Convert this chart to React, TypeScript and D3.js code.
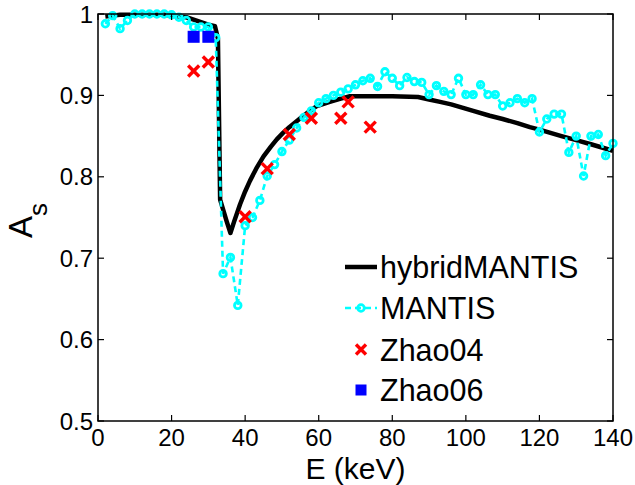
import React from "react";
import * as d3 from "d3";

const W = 635;
const H = 485;
const M = { left: 98, right: 613, top: 14, bottom: 421 };

const xTicks = [0, 20, 40, 60, 80, 100, 120, 140];
const yTicks = [0.5, 0.6, 0.7, 0.8, 0.9, 1];
const yTickLabels = ["0.5", "0.6", "0.7", "0.8", "0.9", "1"];

const hybridE = [2, 4, 6, 8, 10, 12, 14, 16, 18, 20, 22, 24, 26, 28, 30, 31.8, 32.6, 33.2, 34, 35, 36, 37, 38.6, 40, 41.3, 43, 45, 47, 48.6, 50.3, 52, 55, 57, 59.5, 63, 66, 68.5, 74, 80, 87, 90, 93, 96, 99, 102, 106.5, 110, 114, 117.4, 120, 123, 126, 130, 134, 137, 140];
const hybridA = [0.997, 0.998, 0.999, 0.999, 0.999, 0.999, 0.999, 0.999, 0.999, 0.998, 0.997, 0.996, 0.993, 0.99, 0.987, 0.985, 0.97, 0.772, 0.76, 0.745, 0.731, 0.745, 0.766, 0.782, 0.795, 0.81, 0.825, 0.837, 0.846, 0.854, 0.861, 0.872, 0.879, 0.887, 0.892, 0.896, 0.899, 0.899, 0.899, 0.898, 0.895, 0.892, 0.889, 0.885, 0.881, 0.875, 0.871, 0.866, 0.861, 0.858, 0.854, 0.85, 0.845, 0.84, 0.836, 0.832];

const mantisE = [2, 4, 6, 8, 10, 12, 14, 16, 18, 20, 22, 24, 26, 28, 30, 32, 34, 36, 38, 40, 42, 44, 46, 48, 50, 52, 54, 56, 58, 60, 62, 64, 66, 68, 70, 72, 74, 76, 78, 80, 82, 84, 86, 88, 90, 92, 94, 96, 98, 100, 102, 104, 106, 108, 110, 112, 114, 116, 118, 120, 122, 124, 126, 128, 130, 132, 134, 136, 138, 140];
const mantisA = [0.988, 0.998, 0.982, 0.992, 1.0, 1.0, 1.0, 1.0, 1.0, 0.999, 0.996, 0.992, 0.984, 0.984, 0.984, 0.971, 0.681, 0.701, 0.642, 0.74, 0.75, 0.771, 0.801, 0.815, 0.831, 0.845, 0.86, 0.873, 0.881, 0.891, 0.896, 0.9, 0.904, 0.908, 0.913, 0.918, 0.921, 0.911, 0.929, 0.921, 0.912, 0.922, 0.917, 0.916, 0.901, 0.912, 0.905, 0.901, 0.921, 0.901, 0.901, 0.913, 0.901, 0.901, 0.887, 0.891, 0.896, 0.891, 0.896, 0.855, 0.871, 0.877, 0.877, 0.83, 0.85, 0.801, 0.85, 0.852, 0.826, 0.841];

const zhao04E = [26, 30, 40, 46, 52, 58, 66, 68, 74];
const zhao04A = [0.93, 0.941, 0.751, 0.81, 0.852, 0.872, 0.872, 0.892, 0.861];

const zhao06E = [26, 30];
const zhao06A = [0.972, 0.972];

const legendLabels = ["hybridMANTIS", "MANTIS", "Zhao04", "Zhao06"];

const CYAN = "#00FFFF";
const FONT = "Liberation Sans, Arial, sans-serif";

function Cross({ cx, cy, s }: { cx: number; cy: number; s: number }) {
  return (
    <g stroke="#FF0000" strokeWidth={3.4} strokeLinecap="butt">
      <line x1={cx - s} y1={cy - s} x2={cx + s} y2={cy + s} />
      <line x1={cx - s} y1={cy + s} x2={cx + s} y2={cy - s} />
    </g>
  );
}

export default function App() {
  const x = d3.scaleLinear().domain([0, 140]).range([M.left, M.right]);
  const y = d3.scaleLinear().domain([0.5, 1]).range([M.bottom, M.top]);

  const hybridPts: [number, number][] = hybridE.map((e, i) => [e, hybridA[i]]);
  const mantisPts: [number, number][] = mantisE.map((e, i) => [e, mantisA[i]]);
  const line = d3
    .line<[number, number]>()
    .x((d) => x(d[0]))
    .y((d) => y(d[1]));

  const tickLen = 6;
  const legX = 345;
  const legX2 = 377;
  const legMid = 361;
  const legTextX = 380;
  const legRows = [267, 308, 349.5, 390];
  const legBase = [278, 319, 360.5, 401];

  return (
    <svg
      width={W}
      height={H}
      style={{ position: "absolute", left: 0, top: 0, background: "#fff" }}
      fontFamily={FONT}
    >
      <rect x={0} y={0} width={W} height={H} fill="#fff" />
      <path d={line(hybridPts) || ""} fill="none" stroke="#000" strokeWidth={4.5} strokeLinejoin="round" />
      <path d={line(mantisPts) || ""} fill="none" stroke={CYAN} strokeWidth={2.6} strokeDasharray="6,4" />
      {mantisPts.map((d, i) => (
        <circle key={i} cx={x(d[0])} cy={y(d[1])} r={3.3} fill="none" stroke={CYAN} strokeWidth={2.8} />
      ))}
      {zhao04E.map((e, i) => (
        <Cross key={i} cx={x(e)} cy={y(zhao04A[i])} s={5.5} />
      ))}
      {zhao06E.map((e, i) => (
        <rect key={i} x={x(e) - 6} y={y(zhao06A[i]) - 6} width={12} height={12} fill="#0000FF" />
      ))}

      <rect
        x={M.left}
        y={M.top}
        width={M.right - M.left}
        height={M.bottom - M.top}
        fill="none"
        stroke="#000"
        strokeWidth={1.5}
      />
      {xTicks.map((t) => (
        <g key={"xt" + t}>
          <line x1={x(t)} x2={x(t)} y1={M.bottom} y2={M.bottom - tickLen} stroke="#000" strokeWidth={1.2} />
          <line x1={x(t)} x2={x(t)} y1={M.top} y2={M.top + tickLen} stroke="#000" strokeWidth={1.2} />
          <text x={x(t)} y={446} fontSize={24} textAnchor="middle" fill="#000">
            {t}
          </text>
        </g>
      ))}
      {yTicks.map((t, i) => (
        <g key={"yt" + t}>
          <line x1={M.left} x2={M.left + tickLen} y1={y(t)} y2={y(t)} stroke="#000" strokeWidth={1.2} />
          <line x1={M.right} x2={M.right - tickLen} y1={y(t)} y2={y(t)} stroke="#000" strokeWidth={1.2} />
          <text x={93} y={y(t) + 8.5} fontSize={24} textAnchor="end" fill="#000">
            {yTickLabels[i]}
          </text>
        </g>
      ))}

      <text x={(M.left + M.right) / 2} y={479} fontSize={30} textAnchor="middle" fill="#000">
        E (keV)
      </text>
      <g transform="translate(32, 238) rotate(-90)">
        <text x={0} y={0} fontSize={33} fill="#000">
          A
          <tspan fontSize={26} dy={15}>s</tspan>
        </text>
      </g>

      <line x1={legX} x2={legX2} y1={legRows[0]} y2={legRows[0]} stroke="#000" strokeWidth={4.5} />
      <line x1={legX} x2={legX2} y1={legRows[1]} y2={legRows[1]} stroke={CYAN} strokeWidth={2.6} strokeDasharray="6,4" />
      <circle cx={legMid} cy={legRows[1]} r={3.3} fill="none" stroke={CYAN} strokeWidth={2.8} />
      <Cross cx={legMid} cy={legRows[2]} s={5} />
      <rect x={legMid - 5.5} y={legRows[3] - 5.5} width={11} height={11} fill="#0000FF" />
      {legendLabels.map((l, i) => (
        <text key={l} x={legTextX} y={legBase[i]} fontSize={30.5} fill="#000">
          {l}
        </text>
      ))}
    </svg>
  );
}
